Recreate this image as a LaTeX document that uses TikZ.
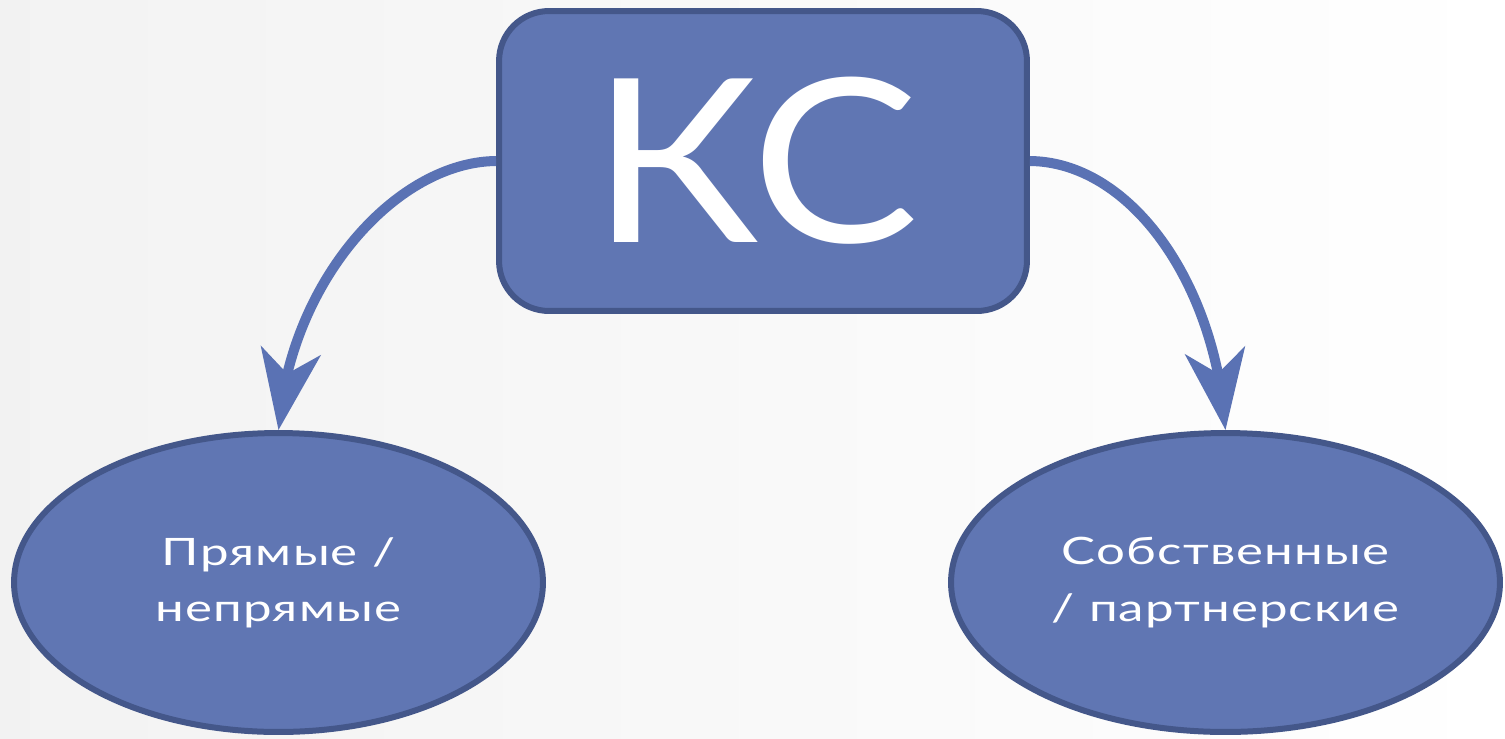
\documentclass[tikz,border=0pt]{standalone}
\usepackage{fontspec}
\setmainfont{Lato}
\newfontfamily\ovalfont[FakeStretch=1.35,LetterSpace=3]{Lato}
\newfontfamily\kcfont[FakeStretch=1.1]{Lato}
\usetikzlibrary{arrows.meta,bending,shapes.geometric}
\definecolor{boxfill}{HTML}{6076B3}
\definecolor{boxline}{HTML}{44578A}
\definecolor{arrowc}{HTML}{5A72B4}
\tikzset{
  kcbox/.style={draw=boxline, fill=boxfill, line width=0.12cm, rounded corners=1cm,
    minimum width=10.56cm, minimum height=6.0cm, inner sep=0pt, text=white,
    font=\kcfont\fontsize{130}{140}\selectfont},
  oval/.style={ellipse, draw=boxline, fill=boxfill, line width=0.12cm,
    minimum width=10.58cm, minimum height=5.98cm, inner sep=0pt, text=white, align=center,
    font=\ovalfont\fontsize{21.5}{32}\selectfont},
  conn/.style={draw=arrowc, line width=0.2cm,
    -{Stealth[length=1.6cm, width=1.2cm, inset=0.46cm, fill=arrowc, flex]}}
}
\begin{document}
\begin{tikzpicture}[x=0.02cm,y=-0.02cm]
\shade[left color=black!5, middle color=white, right color=white] (0,0) rectangle (1505,738);
\useasboundingbox (0,0) rectangle (1505,738);
\node[kcbox] (kc) at (763,161) {КС\kern0.3cm};
\node[oval] (l) at (278.5,582.5) {Прямые /\\непрямые};
\node[oval, minimum width=10.98cm] (r) at (1225.5,582.5) {Собственные\\/ партнерские};
\draw[conn] (kc.west) .. controls (396,162) and (289,282) .. (l.north);
\draw[conn] (kc.east) .. controls (1130,162) and (1216,282) .. (r.north);
\end{tikzpicture}
\end{document}
